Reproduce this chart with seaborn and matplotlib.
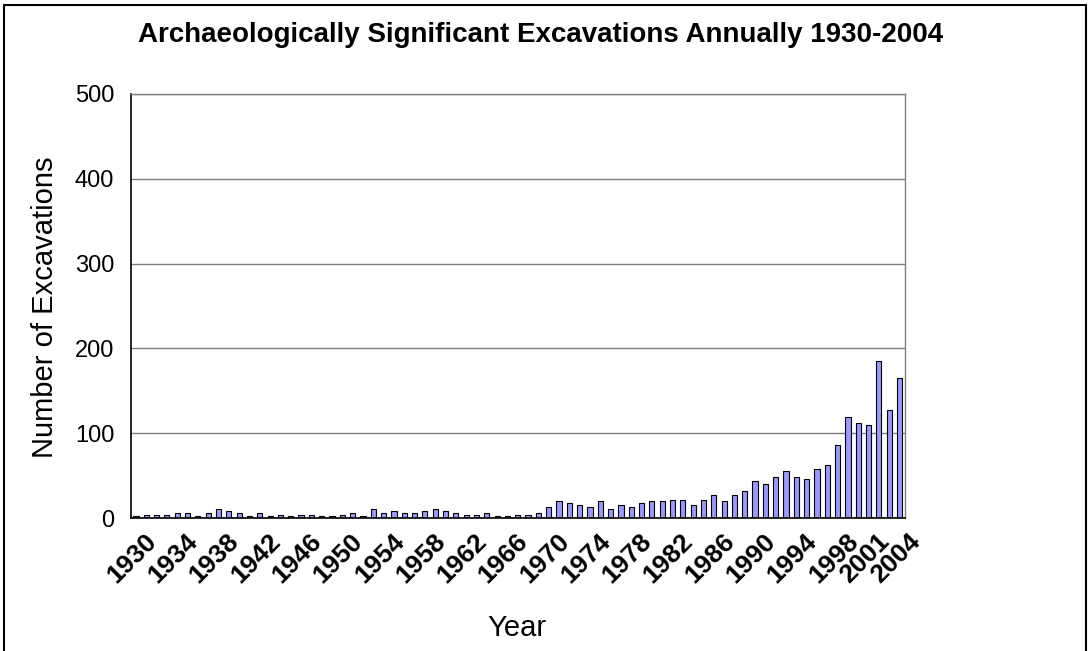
import matplotlib
matplotlib.use("Agg")
import matplotlib.pyplot as plt
from matplotlib.lines import Line2D
from matplotlib.transforms import ScaledTranslation
import seaborn as sns
import pandas as pd

# excavations per year
years = list(range(1930, 2005))
excavations = [2, 4, 4, 4, 6, 6, 2, 6, 11, 9,
               6, 2, 6, 2, 4, 2, 4, 4, 2, 2,
               4, 6, 2, 11, 6, 8, 6, 6, 8, 11,
               8, 6, 4, 4, 6, 2, 2, 4, 4, 6,
               13, 20, 18, 16, 13, 20, 11, 16, 13, 18,
               20, 20, 22, 22, 16, 22, 27, 20, 27, 32,
               44, 40, 49, 56, 49, 46, 58, 63, 86, 119,
               112, 110, 185, 128, 165]
tick_years = list(range(1930, 1999, 4)) + [2001, 2004]
y_ticks = [0, 100, 200, 300, 400, 500]

df = pd.DataFrame({"Year": [str(y) for y in years], "Excavations": excavations})

sns.set_style("white")
plt.rcParams['font.family'] = ['Liberation Sans', 'DejaVu Sans']
plt.rcParams['text.color'] = 'black'
plt.rcParams['xtick.color'] = 'black'
plt.rcParams['ytick.color'] = 'black'

fig = plt.figure(figsize=(10.9, 6.51), dpi=100)
ax = fig.add_axes([0.120, 0.204, 0.710, 0.652])

sns.barplot(data=df, x="Year", y="Excavations", color="#9999FF", saturation=1,
            edgecolor="black", linewidth=0.8, width=0.5, ax=ax)

ax.set_xlim(-0.5, len(years) - 0.5)
ax.set_ylim(0, 500)
ax.set_yticks(y_ticks)
ax.set_yticklabels([str(v) for v in y_ticks], fontsize=17)
ax.yaxis.grid(True, color="#808080", linewidth=1)
ax.set_axisbelow(True)

pos = [years.index(y) for y in tick_years]
ax.set_xticks(pos)
ax.set_xticklabels([str(y) for y in tick_years], rotation=45, ha="right",
                   rotation_mode="anchor", fontsize=19, fontweight="bold")
ax.tick_params(axis="x", length=0, pad=8)
ax.tick_params(axis="y", length=8, width=1, direction="out", pad=4)
# nudge the rotated year labels a little to the right, like the original
shift = ScaledTranslation(6 / 72, 0, fig.dpi_scale_trans)
for lbl in ax.get_xticklabels():
    lbl.set_transform(lbl.get_transform() + shift)

for s in ["top", "right"]:
    ax.spines[s].set_color("#808080")
    ax.spines[s].set_linewidth(1)
for s in ["left", "bottom"]:
    ax.spines[s].set_color("black")
    ax.spines[s].set_linewidth(1.2)

ax.set_xlabel("")
ax.set_ylabel("")
fig.text(0.041, 0.528, "Number of Excavations", rotation=90, ha="center", va="center", fontsize=21)
fig.text(0.474, 0.035, "Year", ha="center", va="center", fontsize=21)
fig.text(0.496, 0.946, "Archaeologically Significant Excavations Annually 1930-2004",
         ha="center", va="center", fontsize=20, fontweight="bold")

# chart area border
fig.add_artist(Line2D([0.004, 0.996], [0.992, 0.992], color="black", linewidth=1.5))
fig.add_artist(Line2D([0.004, 0.004], [0.0, 0.992], color="black", linewidth=1.5))
fig.add_artist(Line2D([0.996, 0.996], [0.0, 0.992], color="black", linewidth=1.5))

fig.savefig("out.png", dpi=100)
